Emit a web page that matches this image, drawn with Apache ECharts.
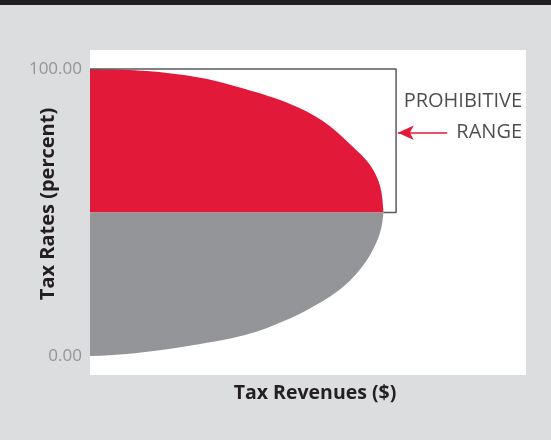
<!DOCTYPE html>
<html>
<head>
<meta charset="utf-8">
<script src="https://cdn.jsdelivr.net/npm/echarts@6/dist/echarts.min.js"></script>
<style>
  html, body { margin: 0; padding: 0; background: #dcdddf; }
  #chart { width: 551px; height: 440px; }
</style>
</head>
<body>
<div id="chart"></div>
<script>
// Laffer curve: tax revenue (x) for each tax rate (y, percent).
// Upper branch runs from a 100% rate down to the revenue peak at 50%.
const upperRevenue = [0, 6.4, 17.2, 26.6, 35.6, 45.9, 53.4, 59.6, 64.2, 66.5, 67.3];
const upperRate    = [100, 99.8, 98.7, 96.6, 93.0, 87.8, 81.9, 73.9, 66.6, 59.4, 50];
// Lower branch runs from the peak down to a 0% rate.
const lowerRevenue = [67.3, 66.5, 63.5, 58.0, 49.8, 42.0, 35.6, 21.8, 10.3, 0];
const lowerRate    = [50, 42.9, 33.4, 24.0, 16.0, 10.6, 7.3, 3.3, 1.0, 0];

const rateTicks = [0, 100];
const splitRate = 50;

// Bracket marking the prohibitive range (rates above the peak).
const bracketRevenue = [0, 70.2, 70.2, 67.3];
const bracketRate    = [100, 100, 50, 50];

// Annotation arrow and its two text lines.
const arrowRevenue = [81.9, 70.6];
const arrowRate    = [77.8, 77.8];
const noteLines    = ['PROHIBITIVE', 'RANGE'];
const noteRevenue  = [99.1, 99.1];
const noteRate     = [88.9, 77.8];

const RED = '#e3193a';
const GRAY = '#939598';
const FONT = '"Open Sans", Lato, sans-serif';

const upperPts = upperRevenue.map((v, i) => [v, upperRate[i]]);
const lowerPts = lowerRevenue.map((v, i) => [v, lowerRate[i]]);

// Centripetal Catmull-Rom through pixel points, emitted as cubic Béziers.
function smoothPath(px, prev, next) {
  const dist = (a, b) => Math.pow(Math.hypot(b[0] - a[0], b[1] - a[1]), 0.5) || 1e-6;
  let d = '';
  for (let i = 0; i < px.length - 1; i++) {
    const p0 = i === 0 ? prev : px[i - 1];
    const p1 = px[i];
    const p2 = px[i + 1];
    const p3 = i + 2 < px.length ? px[i + 2] : next;
    const d1 = dist(p0, p1), d2 = dist(p1, p2), d3 = dist(p2, p3);
    const c1 = [0, 1].map(k =>
      p1[k] + d2 * ((p1[k] - p0[k]) / d1 - (p2[k] - p0[k]) / (d1 + d2) + (p2[k] - p1[k]) / d2) / 3);
    const c2 = [0, 1].map(k =>
      p2[k] - d2 * ((p3[k] - p2[k]) / d3 - (p3[k] - p1[k]) / (d2 + d3) + (p2[k] - p1[k]) / d2) / 3);
    d += ' C' + c1[0] + ' ' + c1[1] + ' ' + c2[0] + ' ' + c2[1] + ' ' + p2[0] + ' ' + p2[1];
  }
  return d;
}

function regionSeries(name, pts, color, isUpper) {
  return {
    type: 'custom',
    name: name,
    data: pts,
    z: 1,
    silent: true,
    renderItem: function (params, api) {
      if (params.dataIndex !== 0) return null;
      const px = pts.map(p => api.coord(p));
      const base = api.coord([0, splitRate]);
      const first = px[0], last = px[px.length - 1];
      let d;
      if (isUpper) {
        // tangent is horizontal at the top and vertical at the peak
        const prev = [first[0] - (px[1][0] - first[0]), first[1]];
        const next = [last[0], last[1] + (last[1] - px[px.length - 2][1])];
        d = 'M' + first[0] + ' ' + first[1] + smoothPath(px, prev, next) +
            ' L' + base[0] + ' ' + base[1] + ' Z';
      } else {
        const prev = [first[0], first[1] - (px[1][1] - first[1])];
        const next = [last[0] - (px[px.length - 2][0] - last[0]), last[1]];
        d = 'M' + base[0] + ' ' + base[1] + ' L' + first[0] + ' ' + first[1] +
            smoothPath(px, prev, next) + ' Z';
      }
      return {
        type: 'path',
        shape: { pathData: d },
        style: { fill: color, stroke: null }
      };
    }
  };
}

const chart = echarts.init(document.getElementById('chart'), null, { renderer: 'canvas' });

chart.setOption({
  backgroundColor: '#dcdddf',
  animation: false,
  graphic: [{
    type: 'rect',
    shape: { x: 0, y: 0, width: 551, height: 5 },
    style: { fill: '#231f20' },
    silent: true
  }],
  grid: {
    left: 90, right: 25, top: 50, bottom: 65,
    containLabel: false,
    outerBoundsMode: 'none',
    show: true, backgroundColor: '#ffffff', borderWidth: 0
  },
  xAxis: {
    type: 'value',
    min: 0, max: 100,
    axisLine: { show: false },
    axisTick: { show: false },
    axisLabel: { show: false },
    splitLine: { show: false },
    name: 'Tax Revenues ($)',
    nameLocation: 'middle',
    nameGap: 8,
    nameMoveOverlap: false,
    nameTextStyle: {
      fontFamily: FONT, fontWeight: 'bold', fontSize: 19.5, color: '#231f20',
      padding: [0, 0, 0, 14]
    }
  },
  yAxis: {
    type: 'value',
    min: -6.62, max: 106.62,
    axisLine: { show: false },
    axisTick: { show: false },
    splitLine: { show: false },
    axisLabel: {
      customValues: rateTicks,
      formatter: v => v.toFixed(2),
      fontFamily: FONT, fontSize: 17, color: GRAY, margin: 8
    },
    name: 'Tax Rates (percent)',
    nameLocation: 'middle',
    nameGap: 32,
    nameMoveOverlap: false,
    nameTextStyle: {
      fontFamily: FONT, fontWeight: 'bold', fontSize: 20, color: '#231f20',
      padding: [0, 0, 0, 17]
    }
  },
  series: [
    regionSeries('high rates', upperPts, RED, true),
    regionSeries('low rates', lowerPts, GRAY, false),
    {
      type: 'line',
      name: 'bracket',
      data: bracketRevenue.map((v, i) => [v, bracketRate[i]]),
      showSymbol: false,
      symbol: 'none',
      z: 3,
      silent: true,
      lineStyle: { color: '#58595b', width: 1.5 }
    },
    {
      type: 'line',
      name: 'arrow',
      data: [],
      z: 4,
      silent: true,
      markLine: {
        silent: true,
        symbol: ['none', 'arrow'],
        symbolSize: [11, 16],
        label: { show: false },
        lineStyle: { color: RED, width: 1.5, type: 'solid' },
        data: [[
          { coord: [arrowRevenue[0], arrowRate[0]] },
          { coord: [arrowRevenue[1], arrowRate[1]] }
        ]]
      }
    },
    {
      type: 'scatter',
      name: 'note',
      symbolSize: 0,
      silent: true,
      z: 5,
      data: noteLines.map((t, i) => ({ value: [noteRevenue[i], noteRate[i]], name: t })),
      label: {
        show: true,
        position: 'left',
        distance: 0,
        formatter: p => p.name,
        fontFamily: FONT, fontSize: 20, color: '#231f20'
      }
    }
  ]
});
</script>
</body>
</html>
